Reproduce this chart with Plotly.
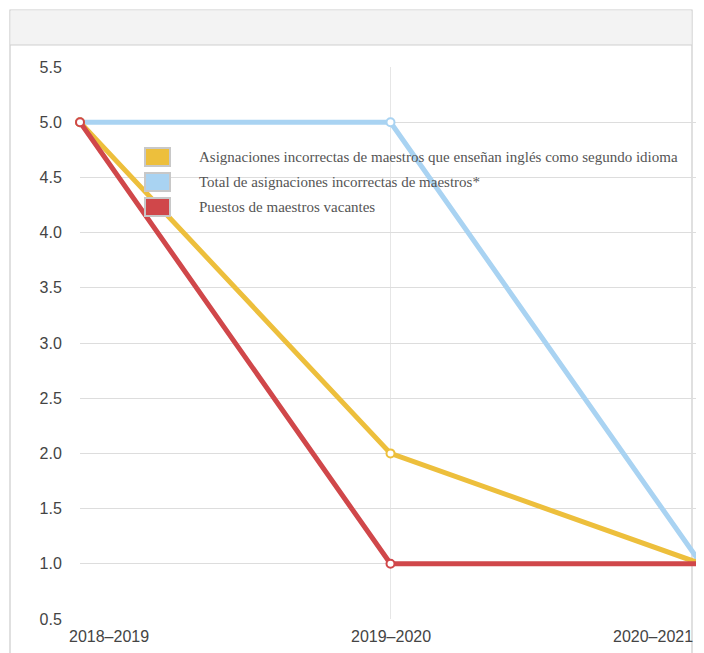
import plotly.graph_objects as go

categories = ["2018–2019", "2019–2020", "2020–2021"]
series_names = [
    "Asignaciones incorrectas de maestros que enseñan inglés como segundo idioma",
    "Total de asignaciones incorrectas de maestros*",
    "Puestos de maestros vacantes",
]
esl_misassign = [5, 2, 1]
total_misassign = [5, 5, 1]
vacancies = [5, 1, 1]
colors = ["#EDBF3C", "#A9D3F2", "#D0474A"]
y_ticks = [0.5, 1.0, 1.5, 2.0, 2.5, 3.0, 3.5, 4.0, 4.5, 5.0, 5.5]

OFF = 8  # page body margin
W, H = 704 - OFF, 653 - OFF
L, R, T = 80 - OFF, 3, 67 - OFF
B = H - (619 - OFF)
pw, ph = W - L - R, H - T - B

def px(x):
    return (x - OFF - L) / pw

def py(y):
    return (H - B - (y - OFF)) / ph

xs = list(range(len(categories)))
fig = go.Figure()

draw_order = [(1, total_misassign), (0, esl_misassign), (2, vacancies)]
for idx, vals in draw_order:
    fig.add_trace(go.Scatter(
        x=xs, y=vals, mode="lines+markers", name=series_names[idx],
        line=dict(color=colors[idx], width=5),
        marker=dict(symbol="circle", size=8, color="white",
                    line=dict(color=colors[idx], width=2)),
        cliponaxis=False, showlegend=False,
    ))

shapes = []
# panel border and header
shapes.append(dict(type="rect", xref="paper", yref="paper",
                   x0=px(10), x1=px(692), y0=py(670), y1=py(10),
                   line=dict(color="#CCCCCC", width=1.2), fillcolor="rgba(0,0,0,0)",
                   layer="below"))
shapes.append(dict(type="rect", xref="paper", yref="paper",
                   x0=px(10.5), x1=px(691.5), y0=py(45), y1=py(10.5),
                   line=dict(width=0), fillcolor="#F3F3F3", layer="below"))
shapes.append(dict(type="line", xref="paper", yref="paper",
                   x0=px(10), x1=px(692), y0=py(45), y1=py(45),
                   line=dict(color="#D0D0D0", width=1.2), layer="below"))

# manual legend
ann = []
sw_top = [148, 173, 198]
for i, name in enumerate(series_names):
    shapes.append(dict(type="rect", xref="paper", yref="paper",
                       x0=px(145), x1=px(170), y0=py(sw_top[i] + 18), y1=py(sw_top[i]),
                       line=dict(color="#C8C8C8", width=2), fillcolor=colors[i]))
    ann.append(dict(xref="paper", yref="paper", x=px(197), y=py(sw_top[i] + 9),
                    text=name, showarrow=False, xanchor="left", yanchor="middle",
                    font=dict(family="Liberation Serif", size=15, color="#555555")))

# x tick labels
anchors = ["left", "center", "right"]
shifts = [-13, 0, -6]
for i, c in enumerate(categories):
    ann.append(dict(xref="x", yref="paper", x=xs[i], y=py(636), text=c,
                    showarrow=False, xanchor=anchors[i], yanchor="middle", xshift=shifts[i],
                    font=dict(family="Liberation Sans", size=16, color="#444444")))

fig.update_layout(
    width=W, height=H,
    margin=dict(l=L, r=R, t=T, b=B),
    paper_bgcolor="white", plot_bgcolor="rgba(0,0,0,0)",
    shapes=shapes, annotations=ann,
    xaxis=dict(range=[0, 2], tickvals=xs, showticklabels=False, showgrid=True,
               gridcolor="#E6E6E6", zeroline=False, showline=False),
    yaxis=dict(range=[0.5, 5.5], tickvals=y_ticks, tickformat=".1f",
               showgrid=True, gridcolor="#DDDDDD", gridwidth=1, zeroline=False,
               showline=False, ticks="outside", ticklen=14, tickcolor="rgba(0,0,0,0)",
               tickfont=dict(family="Liberation Sans", size=16, color="#444444")),
)
fig.write_html("out.html")
